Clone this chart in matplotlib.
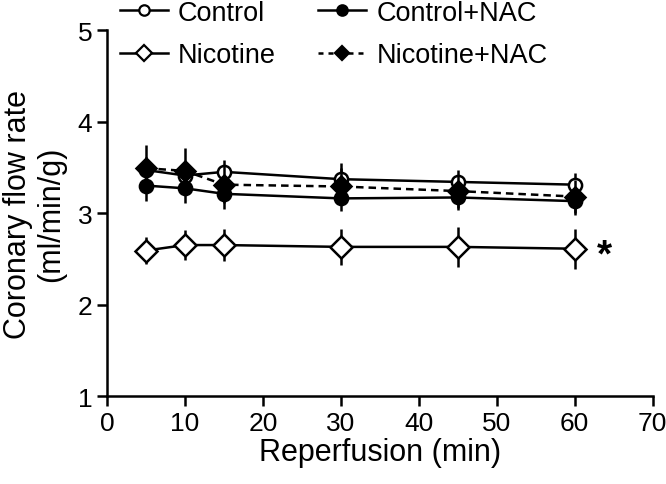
import matplotlib
matplotlib.use("Agg")
import matplotlib.pyplot as plt
from matplotlib.lines import Line2D

plt.rcParams['font.family'] = ['Liberation Sans', 'DejaVu Sans']

time = [5, 10, 15, 30, 45, 60]
control = [3.47, 3.41, 3.45, 3.37, 3.34, 3.31]
control_err = [0.14, 0.14, 0.13, 0.18, 0.13, 0.13]
control_nac = [3.30, 3.27, 3.21, 3.16, 3.17, 3.13]
control_nac_err = [0.17, 0.16, 0.17, 0.14, 0.14, 0.15]
nicotine = [2.59, 2.65, 2.65, 2.63, 2.63, 2.61]
nicotine_err = [0.15, 0.16, 0.17, 0.20, 0.22, 0.22]
nicotine_nac = [3.49, 3.46, 3.31, 3.29, 3.24, 3.18]
nicotine_nac_err = [0.25, 0.25, 0.20, 0.20, 0.18, 0.18]
labels = ["Control", "Control+NAC", "Nicotine", "Nicotine+NAC"]
x_ticks = [0, 10, 20, 30, 40, 50, 60, 70]
y_ticks = [1, 2, 3, 4, 5]

fig = plt.figure(figsize=(6.66, 4.85), dpi=100)
ax = fig.add_axes([0.1607, 0.1814, 0.8193, 0.7546])

lw = 1.8
common = dict(color='black', lw=lw, elinewidth=lw, capsize=0, markeredgewidth=1.8)
ax.errorbar(time, control, yerr=control_err, marker='o', ms=9.5,
            mfc='white', mec='black', ls='-', zorder=3, **common)
ax.errorbar(time, control_nac, yerr=control_nac_err, marker='o', ms=9.5,
            mfc='black', mec='black', ls='-', zorder=4, **common)
ax.errorbar(time, nicotine, yerr=nicotine_err, marker='D', ms=11,
            mfc='white', mec='black', ls='-', zorder=3, **common)
ax.errorbar(time, nicotine_nac, yerr=nicotine_nac_err, marker='D', ms=10,
            mfc='black', mec='black', ls=(0, (3, 2)), zorder=5, **common)

ax.text(63.8, 2.54, '*', fontsize=28, fontweight='bold', ha='center', va='center')

ax.set_xlim(0, 70)
ax.set_ylim(1, 5)
ax.set_xticks(x_ticks)
ax.set_yticks(y_ticks)
ax.tick_params(labelsize=19, width=1.8, length=7, direction='out')
for s in ['top', 'right']:
    ax.spines[s].set_visible(False)
for s in ['left', 'bottom']:
    ax.spines[s].set_linewidth(1.8)
ax.set_xlabel("Reperfusion (min)", fontsize=22, labelpad=2)
ax.set_ylabel("Coronary flow rate\n(ml/min/g)", fontsize=22, labelpad=8, linespacing=1.15)

lh = dict(color='black', lw=lw, markeredgewidth=1.6)
handles = [
    Line2D([], [], marker='o', ms=7.5, mfc='white', mec='black', ls='-', **lh),
    Line2D([], [], marker='D', ms=8.5, mfc='white', mec='black', ls='-', **lh),
    Line2D([], [], marker='o', ms=7.5, mfc='black', mec='black', ls='-', **lh),
    Line2D([], [], marker='D', ms=7.5, mfc='black', mec='black', ls=(0, (2, 2)), **lh),
]
leg_labels = [labels[0], labels[2], labels[1], labels[3]]
fig.legend(handles, leg_labels, loc='upper left', bbox_to_anchor=(0.180, 0.998),
           ncol=2, frameon=False, fontsize=19.5, handlelength=1.78,
           handletextpad=0.37, columnspacing=1.55, labelspacing=0.6,
           borderpad=0, borderaxespad=0)

fig.savefig("out.png", dpi=100)
